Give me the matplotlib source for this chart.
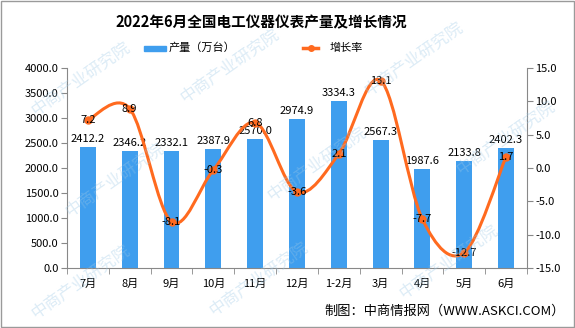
import matplotlib.pyplot as plt
from matplotlib.path import Path
from matplotlib.patches import PathPatch, Rectangle
import numpy as np

plt.rcParams['font.family'] = ['Noto Sans CJK SC', 'DejaVu Sans']

# monthly output (10k units) and year-on-year growth (%)
months = ['7月', '8月', '9月', '10月', '11月', '12月', '1-2月', '3月', '4月', '5月', '6月']
output = [2412.2, 2346.2, 2332.1, 2387.9, 2570.0, 2974.9, 3334.3, 2567.3, 1987.6, 2133.8, 2402.3]
growth = [7.2, 8.9, -8.1, -0.3, 6.8, -3.6, 2.1, 13.1, -7.7, -12.7, 1.7]

bar_color = '#3F9EEE'
line_color = '#FF6A1F'

fig = plt.figure(figsize=(5.75, 3.28), dpi=100)
fig.patches.append(Rectangle((0.002, 0.003), 0.996, 0.994, transform=fig.transFigure,
                             fill=False, edgecolor='#9a9a9a', linewidth=1))

ax = fig.add_axes([0.1165, 0.183, 0.80, 0.61])
x = np.arange(len(months))
ax.bar(x, output, width=0.38, color=bar_color, zorder=2)
for xi, v in zip(x, output):
    ax.text(xi, v + 60, '%.1f' % v, ha='center', va='bottom', fontsize=8, zorder=5)

ax.set_xlim(-0.5, len(months) - 0.5)
ax.set_ylim(0, 4000)
ax.set_yticks(np.arange(0, 4001, 500))
ax.set_yticklabels(['%.1f' % t for t in np.arange(0, 4001, 500)], fontsize=8)
ax.set_xticks(x)
ax.set_xticklabels(months, fontsize=8)
ax.set_xticks(np.arange(-0.5, len(months)), minor=True)
ax.tick_params(axis='x', which='major', length=0, pad=8)
ax.tick_params(axis='x', which='minor', length=4, color='#888888')
ax.tick_params(axis='y', length=4, color='#888888', pad=2)
for s in ['top', 'right']:
    ax.spines[s].set_visible(False)
ax.spines['left'].set_color('#888888')
ax.spines['bottom'].set_color('#888888')

ax2 = ax.twinx()
ax2.set_ylim(-15, 15)
ax2.set_yticks(np.arange(-15, 16, 5))
ax2.set_yticklabels(['%.1f' % t for t in np.arange(-15, 16, 5)], fontsize=8)
ax2.tick_params(axis='y', length=4, color='#888888', pad=2)
for s in ['top', 'left', 'bottom']:
    ax2.spines[s].set_visible(False)
ax2.spines['right'].set_color('#888888')

# smoothed growth line (Catmull-Rom -> cubic Bezier)
pts = np.column_stack([x, growth]).astype(float)
ext = np.vstack([pts[0], pts, pts[-1]])
verts = [tuple(pts[0])]
codes = [Path.MOVETO]
for i in range(len(pts) - 1):
    p0, p1, p2, p3 = ext[i], ext[i + 1], ext[i + 2], ext[i + 3]
    c1 = p1 + (p2 - p0) / 6.0
    c2 = p2 - (p3 - p1) / 6.0
    verts += [tuple(c1), tuple(c2), tuple(p2)]
    codes += [Path.CURVE4] * 3
ax2.add_patch(PathPatch(Path(verts, codes), fill=False, edgecolor=line_color,
                        linewidth=2.2, zorder=3))
ax2.plot(x, growth, 'o', color=line_color, markersize=5, zorder=4)
for xi, g in zip(x, growth):
    ax2.text(xi, g, '%.1f' % g, ha='center', va='center', fontsize=8, zorder=5)

# title and legend
fig.text(261 / 575, 1 - 22 / 328, '2022年6月全国电工仪器仪表产量及增长情况', ha='center',
         va='center', fontsize=10.5, fontweight='bold')
fig.patches.append(Rectangle((144 / 575, 1 - 51 / 328), 22 / 575, 5 / 328,
                             transform=fig.transFigure, color=bar_color))
fig.text(169 / 575, 1 - 48 / 328, '产量（万台）', fontsize=8, va='center')
fig.lines.append(plt.Line2D([303 / 575, 318 / 575], [1 - 48 / 328, 1 - 48 / 328],
                            transform=fig.transFigure, color=line_color, linewidth=2.5))
fig.lines.append(plt.Line2D([310.5 / 575], [1 - 48 / 328], transform=fig.transFigure,
                            color=line_color, marker='o', markersize=4))
fig.text(330 / 575, 1 - 48 / 328, '增长率', fontsize=8, va='center')

fig.text(565 / 575, 1 - 311 / 328, '制图：中商情报网（WWW.ASKCI.COM）', ha='right',
         va='center', fontsize=9.5)

# watermark
for wx, wy in [(0.14, 0.76), (0.4, 0.8), (0.72, 0.82), (0.2, 0.45),
               (0.55, 0.5), (0.88, 0.58), (0.14, 0.14), (0.45, 0.15), (0.78, 0.2)]:
    fig.text(wx, wy, '中商产业研究院', rotation=35, ha='center', va='center',
             fontsize=12, color='#9cc8e6', alpha=0.35, zorder=10)

fig.savefig('out.png', dpi=100)
